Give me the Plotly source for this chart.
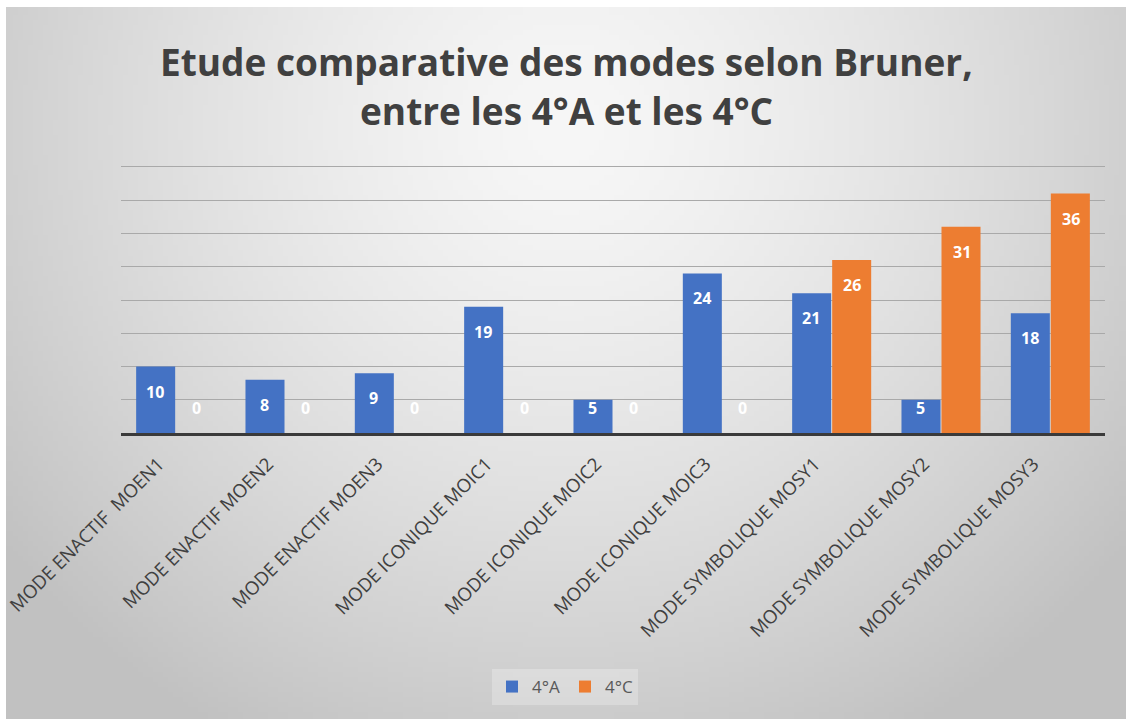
import base64
import struct
import zlib

import numpy as np
import plotly.graph_objects as go

# ---- data -------------------------------------------------------------
categories = [
    "MODE ENACTIF\u00a0 MOEN1",
    "MODE ENACTIF MOEN2",
    "MODE ENACTIF MOEN3",
    "MODE ICONIQUE MOIC1",
    "MODE ICONIQUE MOIC2",
    "MODE ICONIQUE MOIC3",
    "MODE SYMBOLIQUE MOSY1",
    "MODE SYMBOLIQUE MOSY2",
    "MODE SYMBOLIQUE MOSY3",
]
series_names = ["4°A", "4°C"]
values_4a = [10, 8, 9, 19, 5, 24, 21, 5, 18]
values_4c = [0, 0, 0, 0, 0, 0, 26, 31, 36]

title_lines = ["Etude comparative des modes selon Bruner,", "entre les 4°A et les 4°C"]

# ---- styling ----------------------------------------------------------
W, H = 1126, 719
L, R, T, B = 121, 21, 163, 286
BLUE, ORANGE = "#4472C4", "#ED7D31"
Y_TOP = 40.6
FONT = "Open Sans"


def gray_png(pix):
    """Encode a 2-D uint8 array as a grayscale PNG data URI."""
    h, w = pix.shape
    raw = b"".join(b"\x00" + pix[i].tobytes() for i in range(h))

    def chunk(tag, data):
        body = tag + data
        return struct.pack(">I", len(data)) + body + struct.pack(">I", zlib.crc32(body) & 0xFFFFFFFF)

    png = (b"\x89PNG\r\n\x1a\n"
           + chunk(b"IHDR", struct.pack(">IIBBBBB", w, h, 8, 0, 0, 0, 0))
           + chunk(b"IDAT", zlib.compress(raw, 9))
           + chunk(b"IEND", b""))
    return "data:image/png;base64," + base64.b64encode(png).decode()


# radial grey gradient for the chart area
gw, gh = 224, 142
gx, gy = np.meshgrid((np.arange(gw) + 0.5) / gw, (np.arange(gh) + 0.5) / gh)
rad = np.sqrt(((gx - 0.5) / 0.62) ** 2 + ((gy - 0.17) / 0.95) ** 2)
shade = np.clip(247 - 52 * rad ** 1.4, 193, 250).astype(np.uint8)
bg_uri = gray_png(shade)

pw, ph = W - L - R, H - T - B
def px_to_paper_x(px):
    return (px - L) / pw
def px_to_paper_y(py):
    return (H - B - py) / ph

fig = go.Figure()
fig.add_trace(go.Bar(name=series_names[0], x=categories, y=values_4a,
                     marker=dict(color=BLUE, line=dict(width=0))))
fig.add_trace(go.Bar(name=series_names[1], x=categories, y=values_4c,
                     marker=dict(color=ORANGE, line=dict(width=0))))

# data labels: white, inside the top of each bar
units_per_px = Y_TOP / ph
label_drop = 25 * units_per_px
annotations = []
for vals, shift in ((values_4a, -20.5), (values_4c, 20.5)):
    for cat, v in zip(categories, vals):
        annotations.append(dict(
            x=cat, y=max(v - label_drop, label_drop), xref="x", yref="y",
            text=str(v), showarrow=False, xshift=shift, yanchor="middle",
            font=dict(family=FONT, size=16, color="white", weight="bold"),
        ))

# two-line title
for line, py in zip(title_lines, (61, 110)):
    annotations.append(dict(
        x=px_to_paper_x(566), y=px_to_paper_y(py), xref="paper", yref="paper",
        text=line, showarrow=False, xanchor="center", yanchor="middle",
        font=dict(family=FONT, size=37, color="#404040", weight="bold"),
    ))

fig.update_layout(
    width=W, height=H,
    margin=dict(l=L, r=R, t=T, b=B, pad=0, autoexpand=False),
    paper_bgcolor="white",
    plot_bgcolor="rgba(0,0,0,0)",
    barmode="group",
    bargap=0.268,
    bargroupgap=0.025,
    annotations=annotations,
    images=[dict(
        source=bg_uri, xref="paper", yref="paper",
        x=px_to_paper_x(6), y=px_to_paper_y(7),
        sizex=(W - 6) / pw, sizey=(H - 7) / ph,
        xanchor="left", yanchor="top", sizing="stretch", layer="below",
    )],
    legend=dict(
        orientation="h", x=px_to_paper_x(565), y=px_to_paper_y(687),
        xanchor="center", yanchor="middle",
        bgcolor="rgba(255,255,255,0.25)",
        font=dict(family=FONT, size=17, color="#595959"),
        itemwidth=30, traceorder="normal",
    ),
    xaxis=dict(
        showline=True, linecolor="#3a3a3a", linewidth=3,
        showgrid=False, ticks="", tickangle=-45, automargin=False,
        tickfont=dict(family=FONT, size=18.6, color="#404040"),
        ticklabelstandoff=10, ticklabelshift=-17,
    ),
    yaxis=dict(
        range=[0, Y_TOP], dtick=5, showticklabels=False, showline=False,
        showgrid=True, gridcolor="#a9a9a9", gridwidth=1, zeroline=False,
        fixedrange=True, automargin=False,
    ),
    showlegend=True,
)

fig.write_html("out.html")
